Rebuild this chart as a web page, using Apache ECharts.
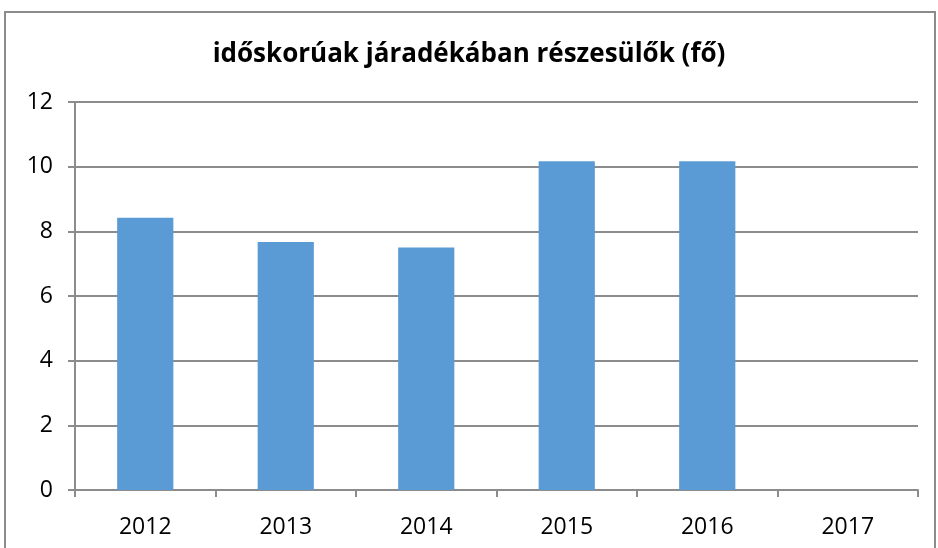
<!DOCTYPE html>
<html>
<head>
<meta charset="utf-8">
<script src="https://cdn.jsdelivr.net/npm/echarts@6/dist/echarts.min.js"></script>
<style>
  html, body { margin: 0; padding: 0; background: #fff; }
  #main { width: 938px; height: 548px; }
</style>
</head>
<body>
<div id="main"></div>
<script>
// adatok
var years = ['2012', '2013', '2014', '2015', '2016', '2017'];
var values = [8.42, 7.67, 7.5, 10.17, 10.17, 0];
var yTicks = [0, 2, 4, 6, 8, 10, 12];

var FONT = "'Open Sans', 'Noto Sans', sans-serif";

var chart = echarts.init(document.getElementById('main'));

var option = {
  backgroundColor: '#fff',
  title: {
    text: 'időskorúak járadékában részesülők (fő)',
    left: 'center',
    top: 37,
    textStyle: {
      fontFamily: FONT,
      fontSize: 26,
      fontWeight: 'bold',
      color: '#000'
    }
  },
  graphic: [{
    type: 'rect',
    shape: { x: 5, y: 12, width: 930, height: 560 },
    style: { fill: 'none', stroke: '#8c8c8c', lineWidth: 2 },
    silent: true
  }],
  grid: { left: 75, right: 20, top: 102, bottom: 58 },
  xAxis: {
    type: 'category',
    data: years,
    axisLine: { lineStyle: { color: '#8c8c8c', width: 2 } },
    axisTick: { show: true, length: 7, lineStyle: { color: '#8c8c8c', width: 2 } },
    axisLabel: {
      margin: 26,
      fontSize: 23,
      color: '#000',
      fontFamily: FONT
    }
  },
  yAxis: {
    type: 'value',
    min: yTicks[0],
    max: yTicks[yTicks.length - 1],
    interval: 2,
    axisLine: { show: true, lineStyle: { color: '#8c8c8c', width: 2 } },
    axisTick: { show: true, length: 7, lineStyle: { color: '#8c8c8c', width: 2 } },
    splitLine: { lineStyle: { color: '#8c8c8c', width: 2 } },
    axisLabel: {
      margin: 22,
      fontSize: 23,
      color: '#000',
      fontFamily: FONT
    }
  },
  series: [{
    type: 'bar',
    data: values,
    barWidth: '40%',
    itemStyle: { color: '#5b9bd5' }
  }]
};

chart.setOption(option);
</script>
</body>
</html>
